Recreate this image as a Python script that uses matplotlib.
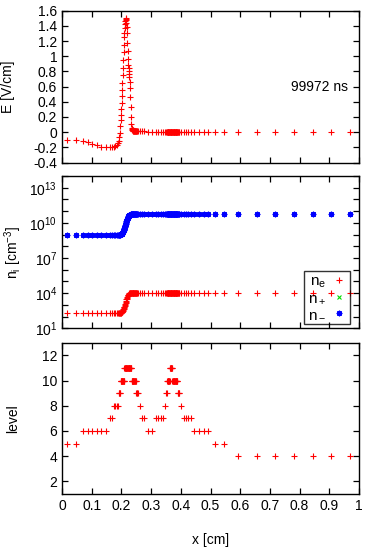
import numpy as np
import matplotlib
matplotlib.use("Agg")
import matplotlib.pyplot as plt
from matplotlib.ticker import FixedLocator, FuncFormatter

plt.rcParams['font.family'] = ['Liberation Sans', 'DejaVu Sans']
plt.rcParams['mathtext.fontset'] = 'custom'
plt.rcParams['mathtext.rm'] = 'Liberation Sans'
plt.rcParams['mathtext.it'] = 'Liberation Sans'
plt.rcParams['font.size'] = 10

# --- mesh cells (x in cm) and refinement level ---
x_left = [0.0156, 0.0469, 0.0703, 0.0859, 0.1016, 0.1172, 0.1328, 0.1484, 0.1621,
          0.1699, 0.1758, 0.1797, 0.1836, 0.1875, 0.1904, 0.1924, 0.1943, 0.1963]
lev_left = [5, 5, 6, 6, 6, 6, 6, 6, 7, 7, 8, 8, 8, 8, 9, 9, 9, 9]
x_rise = [0.1978, 0.1987, 0.1997, 0.2007, 0.2017, 0.2026, 0.2036, 0.2046, 0.2056,
          0.2065, 0.2075, 0.2085, 0.2095]
lev_rise = [10] * 13
x_peak = [0.2100, 0.2110, 0.2120, 0.2130, 0.2140, 0.2150, 0.2160, 0.2170, 0.2180,
          0.2190, 0.2200, 0.2210, 0.2220, 0.2230, 0.2240, 0.2250, 0.2260, 0.2270,
          0.2280, 0.2290, 0.2300, 0.2310, 0.2320, 0.2330]
lev_peak = [11] * 24
x_mid = [0.2345, 0.2355, 0.2365, 0.2375, 0.2385, 0.2395, 0.2405, 0.2415, 0.2425,
         0.2435, 0.2445, 0.2455, 0.2465, 0.2475, 0.2485,
         0.2500, 0.2520, 0.2539, 0.2559,
         0.2617, 0.2695, 0.2773, 0.2891, 0.3047, 0.3164, 0.3242, 0.3320, 0.3398,
         0.3457, 0.3506, 0.3525,
         0.3545, 0.3555, 0.3565, 0.3575, 0.3585, 0.3595, 0.3605, 0.3615, 0.3625,
         0.3635, 0.3645, 0.3655, 0.3665, 0.3675, 0.3685, 0.3695, 0.3705,
         0.3715, 0.3725, 0.3735, 0.3745, 0.3755, 0.3765, 0.3775, 0.3785, 0.3795,
         0.3805, 0.3815, 0.3825, 0.3835, 0.3845, 0.3855, 0.3865, 0.3875, 0.3885,
         0.3896, 0.3916, 0.3936, 0.3955, 0.4023, 0.4102, 0.4180, 0.4258, 0.4336,
         0.4453, 0.4609, 0.4766, 0.4922, 0.5156, 0.5469,
         0.5938, 0.6563, 0.7188, 0.7813, 0.8438, 0.9063, 0.9688]
lev_mid = ([10] * 15 + [9] * 4 + [8, 7, 7, 6, 6, 7, 7, 7, 7, 8, 9, 9] + [10] * 9
           + [11] * 8 + [10] * 18 + [9, 9, 9, 9, 8, 7, 7, 7, 7, 6, 6, 6, 6, 5, 5]
           + [4] * 7)

# --- electric field [V/cm] on the same cells ---
E_left = [-0.097, -0.106, -0.123, -0.136, -0.154, -0.172, -0.19, -0.20, -0.202,
          -0.198, -0.19, -0.18, -0.165, -0.145, -0.12, -0.07, -0.01, 0.08]
E_rise = [0.16, 0.22, 0.30, 0.38, 0.47, 0.56, 0.65, 0.75, 0.85, 0.95, 1.05, 1.15, 1.25]
E_peak = [1.30, 1.37, 1.42, 1.46, 1.49, 1.50, 1.48, 1.44, 1.38, 1.30, 1.18, 1.07,
          0.96, 0.89, 0.84, 0.80, 0.76, 0.72, 0.66, 0.58, 0.46, 0.33, 0.20, 0.11]
E_mid = ([0.05, 0.035, 0.028, 0.024, 0.022, 0.02, 0.02, 0.018, 0.018, 0.016, 0.016,
          0.015, 0.015, 0.014, 0.014, 0.013, 0.012, 0.012, 0.011,
          0.010, 0.010, 0.009, 0.008, 0.007, 0.006, 0.006, 0.005, 0.005, 0.005,
          0.004, 0.004] + [0.004] * 35
         + [0.003, 0.003, 0.003, 0.003, 0.003, 0.002, 0.002, 0.002, 0.002, 0.002,
            0.001, 0.001, 0.001, 0.001, 0.0, 0.0, 0.0, 0.0, 0.0, 0.0, 0.0, 0.0])

# --- densities, log10 [cm^-3] ---
log_ne_left = [2.32] * 18
log_ne_rise = [2.33, 2.34, 2.35, 2.37, 2.39, 2.42, 2.46, 2.50, 2.55, 2.61, 2.67, 2.74, 2.81]
log_ne_peak = [2.85, 2.93, 3.01, 3.10, 3.19, 3.28, 3.37, 3.46, 3.54, 3.62, 3.69, 3.76,
               3.82, 3.87, 3.91, 3.94, 3.97, 3.99, 4.01, 4.02, 4.03, 4.04, 4.04, 4.05]
log_ne_mid = [4.05] * 88
log_nneg_left = [9.0] * 18
log_nneg_rise = [9.01, 9.02, 9.03, 9.05, 9.07, 9.10, 9.14, 9.18, 9.23, 9.29, 9.35, 9.42, 9.49]
log_nneg_peak = [9.53, 9.61, 9.69, 9.78, 9.87, 9.96, 10.05, 10.14, 10.22, 10.30, 10.37,
                 10.44, 10.50, 10.55, 10.59, 10.62, 10.65, 10.67, 10.69, 10.70, 10.71,
                 10.72, 10.72, 10.73]
log_nneg_mid = [10.73] * 88

time_label = "99972 ns"
xticks = [0, 0.1, 0.2, 0.3, 0.4, 0.5, 0.6, 0.7, 0.8, 0.9, 1]

x = np.array(x_left + x_rise + x_peak + x_mid)
level = np.array(lev_left + lev_rise + lev_peak + lev_mid)
E = np.array(E_left + E_rise + E_peak + E_mid)
n_e = 10 ** np.array(log_ne_left + log_ne_rise + log_ne_peak + log_ne_mid)
n_neg = 10 ** np.array(log_nneg_left + log_nneg_rise + log_nneg_peak + log_nneg_mid)
n_pos = n_neg + n_e

fig = plt.figure(figsize=(3.66, 5.49), dpi=100)
L, W = 62 / 366, 297 / 366
ax1 = fig.add_axes([L, 1 - 162.5 / 549, W, 151.8 / 549])
ax2 = fig.add_axes([L, 1 - 328.3 / 549, W, 152.3 / 549])
ax3 = fig.add_axes([L, 1 - 494 / 549, W, 151.3 / 549])

mk = dict(ls="none", ms=4.5, mew=0.8)
ax1.plot(x, E, marker="+", color="red", **mk)
ax2.plot(x, n_e, marker="+", color="red", label="n$_e$", **mk)
ax2.plot(x, n_pos, marker="x", color="#00dd00", label="n$_+$", ls="none", ms=3, mew=0.8)
ax2.plot(x, n_neg, marker=(8, 2, 0), color="blue", label="n$_-$", ls="none", ms=4, mew=0.9)
ax3.plot(x, level, marker="+", color="red", **mk)

fmt = FuncFormatter(lambda v, p: "%g" % round(v, 3))
for ax in (ax1, ax2, ax3):
    ax.set_xlim(0, 1)
    ax.set_xticks(xticks)
    ax.tick_params(direction="in", top=True, right=True, length=4, width=0.9)
    ax.tick_params(which="minor", direction="in", top=True, right=True, length=0)
    for s in ax.spines.values():
        s.set_linewidth(1.0)
ax1.set_xticklabels([])
ax2.set_xticklabels([])
ax3.xaxis.set_major_formatter(fmt)

ax1.set_ylim(-0.4, 1.6)
ax1.set_yticks(np.arange(-0.4, 1.61, 0.2))
ax1.yaxis.set_major_formatter(fmt)
ax1.set_ylabel("E [V/cm]", va="center")
ax1.yaxis.set_label_coords(-0.182, 0.5)
ax1.text(0.963, 0.59, time_label, transform=ax1.get_yaxis_transform(),
         ha="right", va="center")

ax2.set_yscale("log")
ax2.set_ylim(1e1, 1e14)
ax2.yaxis.set_major_locator(FixedLocator([10.0 ** k for k in range(1, 15)]))
ax2.yaxis.set_minor_locator(FixedLocator([]))
ax2.yaxis.set_major_formatter(FuncFormatter(
    lambda v, p: ("$10^{%d}$" % round(np.log10(v))) if round(np.log10(v)) % 3 == 1 else ""))
ax2.set_ylabel("n$_i$ [cm$^{-3}$]", va="center")
ax2.yaxis.set_label_coords(-0.163, 0.5)
leg = ax2.legend(loc="lower right", bbox_to_anchor=(0.97, 0.027), borderaxespad=0,
                 markerfirst=False, numpoints=1, handlelength=1.0, handletextpad=0.4,
                 labelspacing=0.1, borderpad=0.2, fancybox=False,
                 facecolor="none", edgecolor="black", fontsize=11)
leg.get_frame().set_linewidth(1.0)

ax3.set_ylim(1, 13)
ax3.set_yticks([2, 4, 6, 8, 10, 12])
ax3.set_ylabel("level", va="center")
ax3.yaxis.set_label_coords(-0.165, 0.5)
ax3.set_xlabel("x [cm]")
ax3.xaxis.set_label_coords(0.5, -0.258)

fig.savefig("out.png", dpi=100)
